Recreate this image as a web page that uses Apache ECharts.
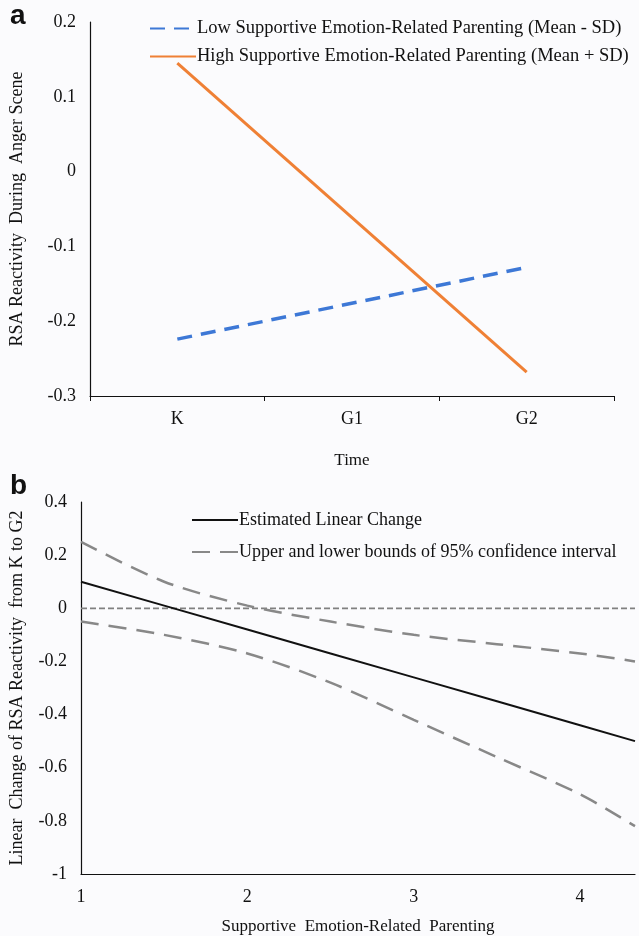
<!DOCTYPE html>
<html>
<head>
<meta charset="utf-8">
<script src="https://cdn.jsdelivr.net/npm/echarts@6/dist/echarts.min.js"></script>
<style>
  html, body { margin: 0; padding: 0; background: #fbfbfd; }
  #chart { width: 639px; height: 936px; }
</style>
</head>
<body>
<div id="chart"></div>
<script>
// panel a
const timePoints = ['K', 'G1', 'G2'];
const lowSupport = [-0.224, null, -0.128];
const highSupport = [0.145, null, -0.268];

// panel b
const parenting = [1, 1.5, 2, 2.5, 3, 3.5, 4, 4.33];
const estimated = [0.1, 0.01, -0.08, -0.17, -0.26, -0.35, -0.44, -0.5];
const upperCI = [0.25, 0.1, 0.01, -0.05, -0.1, -0.135, -0.17, -0.2];
const lowerCI = [-0.05, -0.1, -0.17, -0.28, -0.42, -0.56, -0.7, -0.82];
const zeroLine = [0, 0];
const zeroX = [1, 4.33];

const serif = 'Liberation Serif';
const pair = (xs, ys) => xs.map((x, i) => [x, ys[i]]);

const chart = echarts.init(document.getElementById('chart'));

chart.setOption({
  backgroundColor: '#fbfbfd',
  animation: false,
  textStyle: { fontFamily: serif, color: '#111' },
  graphic: [
    { type: 'text', left: 10, top: 2, style: { text: 'a', font: 'bold 28px Liberation Sans', fill: '#111' } },
    { type: 'text', left: 10, top: 472, style: { text: 'b', font: 'bold 28px Liberation Sans', fill: '#111' } }
  ],
  legend: [
    {
      data: ['Low Supportive Emotion-Related Parenting (Mean - SD)', 'High Supportive Emotion-Related Parenting (Mean + SD)'],
      orient: 'vertical', left: 144, top: 14, itemWidth: 46, itemHeight: 12, itemGap: 9,
      itemStyle: { opacity: 0 },
      textStyle: { fontFamily: serif, fontSize: 18.5, color: '#111', padding: [0, 0, 0, -4] }
    },
    {
      data: ['Estimated Linear Change', 'Upper and lower bounds of 95% confidence interval'],
      orient: 'vertical', left: 186, top: 506, itemWidth: 46, itemHeight: 12, itemGap: 14,
      itemStyle: { opacity: 0 },
      textStyle: { fontFamily: serif, fontSize: 18, color: '#111', padding: [0, 0, 0, -4] }
    }
  ],
  grid: [
    { left: 86, top: 22, width: 528, height: 374 },
    { left: 78, top: 502, width: 557, height: 373 }
  ],
  xAxis: [
    {
      gridIndex: 0, type: 'category', data: timePoints, boundaryGap: true,
      axisLine: { onZero: false, lineStyle: { color: '#111', width: 1.2 } },
      axisTick: { show: true, length: 5, lineStyle: { color: '#111' } },
      axisLabel: { fontFamily: serif, fontSize: 18, color: '#111', margin: 14 },
      name: 'Time', nameLocation: 'middle', nameGap: 56,
      nameTextStyle: { fontFamily: serif, fontSize: 17, color: '#111' }
    },
    {
      gridIndex: 1, type: 'value', min: 1, max: 4.33, interval: 1,
      axisLine: { onZero: false, lineStyle: { color: '#111', width: 1.2 } },
      axisTick: { show: false },
      splitLine: { show: false },
      axisLabel: {
        fontFamily: serif, fontSize: 18, color: '#111', margin: 14,
        formatter: v => (Number.isInteger(v) ? String(v) : '')
      },
      name: 'Supportive  Emotion-Related  Parenting', nameLocation: 'middle', nameGap: 44,
      nameTextStyle: { fontFamily: serif, fontSize: 17, color: '#111' }
    }
  ],
  yAxis: [
    {
      gridIndex: 0, type: 'value', min: -0.3, max: 0.2, interval: 0.1,
      axisLine: { show: true, onZero: false, lineStyle: { color: '#111', width: 1.2 } },
      axisTick: { show: false },
      splitLine: { show: false },
      axisLabel: { fontFamily: serif, fontSize: 18, color: '#111', margin: 14 },
      name: 'RSA Reactivity  During  Anger Scene', nameLocation: 'middle', nameGap: 64,
      nameTextStyle: { fontFamily: serif, fontSize: 18, color: '#111' }
    },
    {
      gridIndex: 1, type: 'value', min: -1, max: 0.4, interval: 0.2,
      axisLine: { show: true, onZero: false, lineStyle: { color: '#111', width: 1.2 } },
      axisTick: { show: false },
      splitLine: { show: false },
      axisLabel: { fontFamily: serif, fontSize: 18, color: '#111', margin: 14 },
      name: 'Linear  Change of RSA Reactivity  from K to G2', nameLocation: 'middle', nameGap: 55,
      nameTextStyle: { fontFamily: serif, fontSize: 18, color: '#111' }
    }
  ],
  series: [
    {
      name: 'Low Supportive Emotion-Related Parenting (Mean - SD)', type: 'line',
      xAxisIndex: 0, yAxisIndex: 0, data: lowSupport, connectNulls: true,
      symbol: 'none', color: '#3d78d6',
      lineStyle: { color: '#3d78d6', width: 3.5, type: [15, 9] }
    },
    {
      name: 'High Supportive Emotion-Related Parenting (Mean + SD)', type: 'line',
      xAxisIndex: 0, yAxisIndex: 0, data: highSupport, connectNulls: true,
      symbol: 'none', color: '#ef8035',
      lineStyle: { color: '#ef8035', width: 3 }
    },
    {
      name: 'zero', type: 'line', xAxisIndex: 1, yAxisIndex: 1,
      data: pair(zeroX, zeroLine), symbol: 'none', silent: true,
      lineStyle: { color: '#808080', width: 1.8, type: [6, 3] }
    },
    {
      name: 'Estimated Linear Change', type: 'line', xAxisIndex: 1, yAxisIndex: 1,
      data: pair(parenting, estimated), symbol: 'none', color: '#111',
      lineStyle: { color: '#111', width: 2 }
    },
    {
      name: 'Upper and lower bounds of 95% confidence interval', type: 'line',
      xAxisIndex: 1, yAxisIndex: 1, data: pair(parenting, upperCI), smooth: 0.3,
      symbol: 'none', color: '#888',
      lineStyle: { color: '#888', width: 2.5, type: [18, 10] }
    },
    {
      name: 'Upper and lower bounds of 95% confidence interval', type: 'line',
      xAxisIndex: 1, yAxisIndex: 1, data: pair(parenting, lowerCI), smooth: 0.3,
      symbol: 'none', color: '#888',
      lineStyle: { color: '#888', width: 2.5, type: [18, 10] }
    }
  ]
});

window.addEventListener('resize', () => chart.resize());
</script>
</body>
</html>
